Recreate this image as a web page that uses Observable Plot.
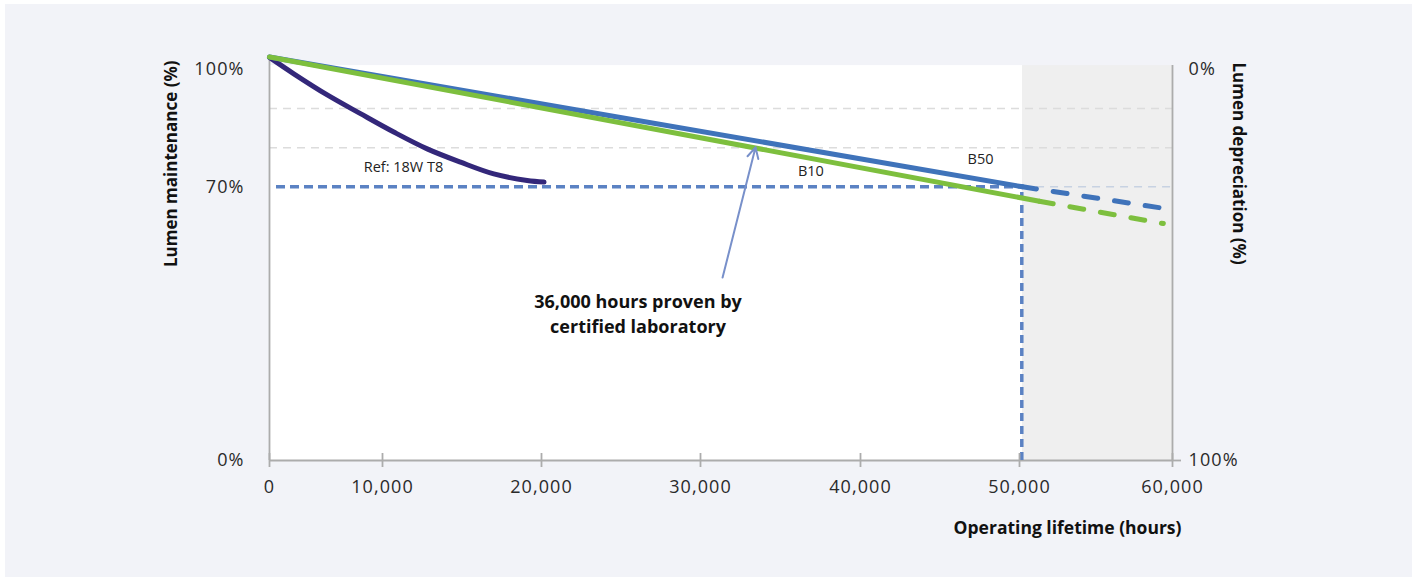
<!DOCTYPE html>
<html>
<head>
<meta charset="utf-8">
<script src="https://cdn.jsdelivr.net/npm/d3@7"></script>
<script src="https://cdn.jsdelivr.net/npm/@observablehq/plot@0.6"></script>
<style>
  html, body { margin: 0; padding: 0; background: #ffffff; }
  #wrap { position: relative; width: 1416px; height: 581px; overflow: hidden; }
  #panel { position: absolute; left: 5px; top: 4px; width: 1407px; height: 573px; background: #f2f3f8; }
  #chart { position: absolute; left: 0; top: 0; }
  #chart g[aria-label="x-axis tick label"] text,
  #chart g[aria-label="y-axis tick label"] text { letter-spacing: 1.1px; }
</style>
</head>
<body>
<div id="wrap"><div id="panel"></div><div id="chart"></div></div>
<script>
// ---------- data (hours, lumen maintenance %) ----------
const xTicks = [0, 10000, 20000, 30000, 40000, 50000, 60000];
const yTicksLeft = [0, 70, 100];
const yTicksRight = [0, 100];
const gridLevels = [80, 90];
const thresholdLevel = 70;
const plotTop = 101;
const axisTop = 103.3;
const zoneBounds = [0, 50200, 60000];      // white zone / projected (grey) zone
const thresholdStart = 620;
const ratedLife = 50150;

const refT8Hours  = [0, 2150, 5110, 8050, 10710, 12810, 14910, 17000, 19100, 20160];
const refT8Values = [103.1, 98.9, 93.5, 88.7, 84.0, 79.7, 76.3, 73.3, 71.6, 71.2];

const b50MeasuredHours  = [0, 50200];
const b50MeasuredValues = [103.2, 70.0];
const b50ProjectedHours  = [50200, 59400];
const b50ProjectedValues = [70.0, 64.5];

const b10MeasuredHours  = [0, 51300];
const b10MeasuredValues = [103.2, 66.3];
const b10ProjectedHours  = [51300, 59400];
const b10ProjectedValues = [66.3, 60.6];

const labelTexts  = ["Ref: 18W T8", "B10", "B50"];
const labelHours  = [11320, 36900, 47550];
const labelValues = [74.9, 73.9, 77.0];

const calloutText = "36,000 hours proven by\ncertified laboratory";
const calloutHour = 26070;
const calloutValue = 37.8;
const arrowHours  = [31380, 33440];
const arrowValues = [46.8, 80.1];

// ---------- build tables ----------
const zip = (hs, vs) => hs.map((h, i) => ({h, v: vs[i]}));
const refT8 = zip(refT8Hours, refT8Values);
const b50m = zip(b50MeasuredHours, b50MeasuredValues);
const b50p = zip(b50ProjectedHours, b50ProjectedValues);
const b10m = zip(b10MeasuredHours, b10MeasuredValues);
const b10p = zip(b10ProjectedHours, b10ProjectedValues);
const labels = labelTexts.map((t, i) => ({t, h: labelHours[i], v: labelValues[i]}));
const zones = [{x1: zoneBounds[0], x2: zoneBounds[1]}, {x1: zoneBounds[1], x2: zoneBounds[2]}];
const arrow = [{x1: arrowHours[0], y1: arrowValues[0], x2: arrowHours[1], y2: arrowValues[1]}];

const blue = "#3f73ba", green = "#7dbf3e", purple = "#33277a", dashBlue = "#5b82c3";
const axisGrey = "#acacac";

const chart = Plot.plot({
  width: 1416,
  height: 581,
  marginLeft: 269,
  marginRight: 244,
  marginTop: 69,
  marginBottom: 121,
  style: {background: "transparent", fontFamily: "'Open Sans', sans-serif", fontSize: "18px", color: "#2a2a2a"},
  x: {type: "linear", domain: xTicks, range: [269, 382, 541, 700, 860, 1019, 1172]},
  y: {type: "linear", domain: [0, 100], range: [460, 69]},
  marks: [
    // zones
    Plot.rect(zones.slice(0, 1), {x1: "x1", x2: "x2", y1: 0, y2: plotTop, fill: "#ffffff"}),
    Plot.rect(zones.slice(1), {x1: "x1", x2: "x2", y1: 0, y2: plotTop, fill: "#efefef"}),
    // grid lines
    Plot.ruleY(gridLevels, {x1: zoneBounds[0], x2: zoneBounds[2], stroke: "#dcdcdc", strokeWidth: 1.5, strokeDasharray: "8,6"}),
    Plot.ruleY([thresholdLevel], {x1: zoneBounds[1], x2: zoneBounds[2], stroke: "#c7d2e2", strokeWidth: 1.6, strokeDasharray: "8,6"}),
    // axis lines
    Plot.ruleX([xTicks[0]], {y1: 0, y2: axisTop, stroke: axisGrey, strokeWidth: 1.8}),
    Plot.ruleX([xTicks[xTicks.length - 1]], {y1: 0, y2: plotTop, stroke: axisGrey, strokeWidth: 1.8}),
    Plot.ruleY([0], {x1: xTicks[0], x2: xTicks[xTicks.length - 1], stroke: axisGrey, strokeWidth: 1.8}),
    // 70% threshold and rated life
    Plot.ruleY([thresholdLevel], {x1: thresholdStart, x2: zoneBounds[1], stroke: dashBlue, strokeWidth: 3.5, strokeDasharray: "9,5"}),
    Plot.ruleX([ratedLife], {y1: 0, y2: thresholdLevel, stroke: dashBlue, strokeWidth: 3.5, strokeDasharray: "8,5"}),
    // curves
    Plot.line(refT8, {x: "h", y: "v", stroke: purple, strokeWidth: 5, curve: "catmull-rom", strokeLinecap: "round"}),
    Plot.line(b50m, {x: "h", y: "v", stroke: blue, strokeWidth: 5, strokeLinecap: "round"}),
    Plot.line(b10m, {x: "h", y: "v", stroke: green, strokeWidth: 5, strokeLinecap: "round"}),
    Plot.line(b50p, {x: "h", y: "v", stroke: blue, strokeWidth: 5, strokeLinecap: "round", strokeDasharray: "14,17"}),
    Plot.line(b10p, {x: "h", y: "v", stroke: green, strokeWidth: 5, strokeLinecap: "round", strokeDasharray: "14,17"}),
    // labels
    Plot.text(labels, {x: "h", y: "v", text: "t", fontSize: 14.5, fill: "#222"}),
    Plot.text([calloutText], {x: calloutHour, y: calloutValue, text: d => d, fontSize: 18, fontWeight: "bold", fill: "#111", lineHeight: 1.35}),
    Plot.arrow(arrow, {x1: "x1", y1: "y1", x2: "x2", y2: "y2", stroke: "#7890ca", strokeWidth: 2, headLength: 9, headAngle: 55}),
    // axes
    Plot.axisX({ticks: xTicks, tickSize: 14, dy: -7, tickFormat: () => "", stroke: axisGrey, strokeWidth: 1.8}),
    Plot.axisX({ticks: xTicks, tickSize: 0, tickPadding: 20, tickFormat: d => d3.format(",")(d), fontSize: 18}),
    Plot.axisY({ticks: yTicksLeft, tickSize: 0, tickPadding: 25, tickFormat: d => d + "%", fontSize: 18}),
    Plot.axisY({anchor: "right", ticks: [0], tickSize: 8, tickFormat: () => "", stroke: axisGrey, strokeWidth: 1.8}),
    Plot.axisY({anchor: "right", ticks: yTicksRight, tickSize: 0, tickPadding: 16, tickFormat: d => (100 - d) + "%", fontSize: 18}),
    // axis titles
    Plot.text(["Lumen maintenance (%)"], {frameAnchor: "top-left", text: d => d, rotate: -90, textAnchor: "end", dx: -105, dy: -9, fontSize: 17, fontWeight: "bold", fill: "#111"}),
    Plot.text(["Lumen depreciation (%)"], {frameAnchor: "top-right", text: d => d, rotate: 90, textAnchor: "start", dx: 73, dy: -7, fontSize: 17, fontWeight: "bold", fill: "#111"}),
    Plot.text(["Operating lifetime (hours)"], {frameAnchor: "bottom-right", text: d => d, textAnchor: "end", dx: 9, dy: 73, fontSize: 17.5, fontWeight: "bold", fill: "#111"})
  ]
});
document.getElementById("chart").appendChild(chart);
</script>
</body>
</html>
